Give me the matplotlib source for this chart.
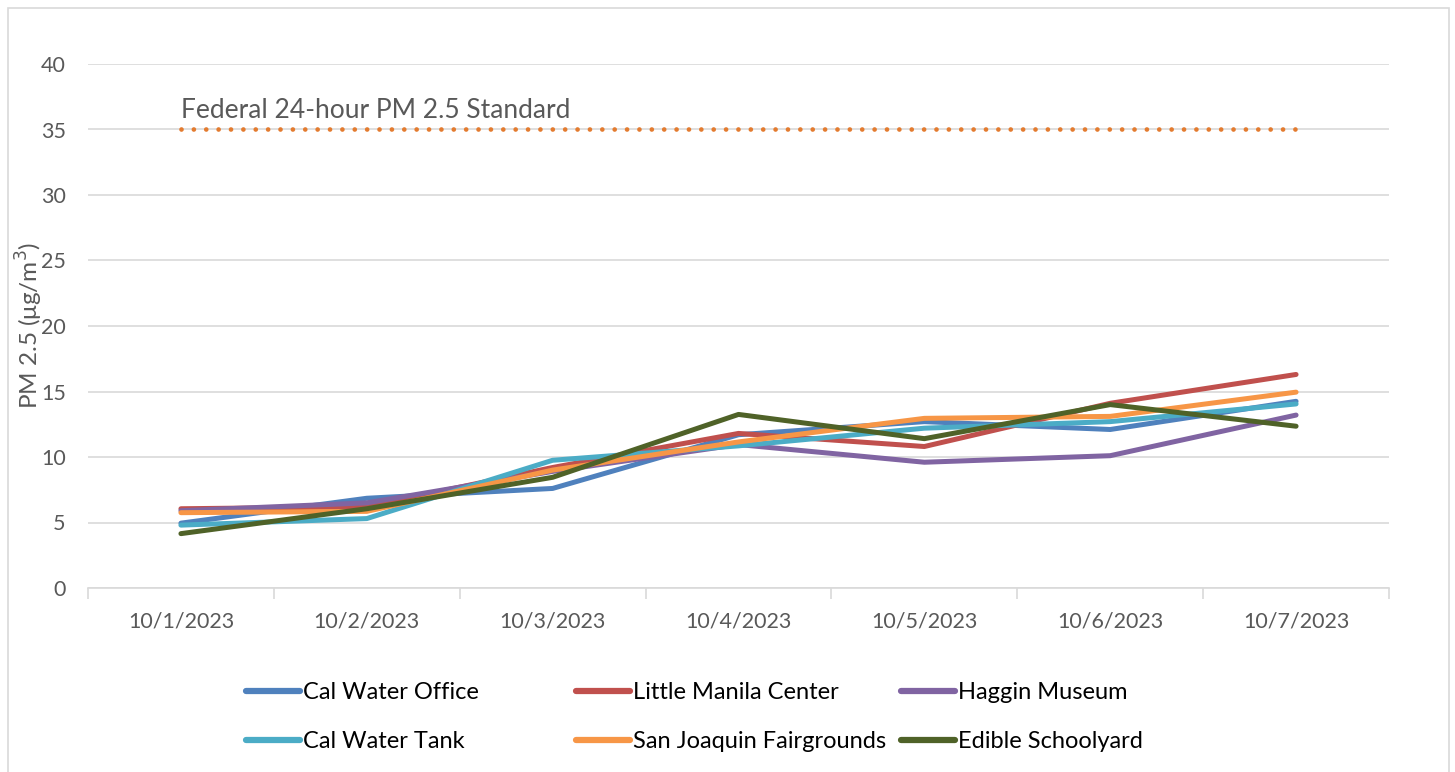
import matplotlib.pyplot as plt
from matplotlib.patches import Rectangle

dates = ['10/1/2023', '10/2/2023', '10/3/2023', '10/4/2023', '10/5/2023', '10/6/2023', '10/7/2023']

cal_water_office = [4.95, 6.85, 7.6, 11.7, 12.7, 12.1, 14.25]
little_manila = [6.05, 6.2, 9.2, 11.8, 10.8, 14.1, 16.3]
haggin_museum = [5.9, 6.5, 8.9, 10.95, 9.6, 10.1, 13.2]
cal_water_tank = [4.8, 5.3, 9.75, 10.85, 12.2, 12.7, 14.05]
fairgrounds = [5.75, 5.85, 9.0, 11.15, 12.95, 13.1, 14.95]
edible_schoolyard = [4.15, 6.05, 8.45, 13.25, 11.4, 14.0, 12.35]

standard = [35] * 7

series = [
    ('Cal Water Office', cal_water_office, '#4F81BD'),
    ('Little Manila Center', little_manila, '#C0504D'),
    ('Haggin Museum', haggin_museum, '#8064A2'),
    ('Cal Water Tank', cal_water_tank, '#4BACC6'),
    ('San Joaquin Fairgrounds', fairgrounds, '#F79646'),
    ('Edible Schoolyard', edible_schoolyard, '#4F6228'),
]

plt.rcParams['font.family'] = ['Lato', 'DejaVu Sans']

fig = plt.figure(figsize=(14.55, 7.72), dpi=100)
ax = fig.add_axes([88 / 1455, 1 - 588 / 772, (1389 - 88) / 1455, (588 - 64) / 772])

# chart border
fig.patches.append(Rectangle((8 / 1455, -0.01), 1441 / 1455, 1 - 8 / 772 + 0.01,
                             transform=fig.transFigure, fill=False,
                             edgecolor='#D9D9D9', lw=1.2))

x = list(range(len(dates)))
lines = []
for name, vals, col in series:
    ln, = ax.plot(x, vals, color=col, lw=3.6, label=name, solid_capstyle='round',
                  solid_joinstyle='round')
    lines.append(ln)

ax.plot(x, standard, color='#E37B2F', lw=3.4, linestyle=(0, (0.001, 2.62)),
        dash_capstyle='round')
ax.text(0, 35.5, 'Federal 24-hour PM 2.5 Standard', fontsize=19, color='#595959',
        ha='left', va='bottom')

ax.set_xlim(-0.5, 6.5)
ax.set_ylim(0, 40)
ax.set_yticks(range(0, 41, 5))
ax.set_xticks(x)
ax.set_xticklabels(dates)
ax.set_xticks([i - 0.5 for i in range(8)], minor=True)
ax.tick_params(axis='x', which='major', length=0, pad=17, labelsize=15.5, labelcolor='#595959')
ax.tick_params(axis='x', which='minor', length=8, color='#D9D9D9', width=1.2)
ax.tick_params(axis='y', length=0, pad=16, labelsize=15.5, labelcolor='#595959')
ax.grid(axis='y', color='#D9D9D9', lw=1.2)
ax.set_axisbelow(True)
for s in ['top', 'right', 'left']:
    ax.spines[s].set_visible(False)
ax.spines['bottom'].set_color('#D9D9D9')
ax.spines['bottom'].set_linewidth(1.2)

ax.set_ylabel('PM 2.5 (μg/m$^3$)', fontsize=17.5, color='#595959')
ax.yaxis.set_label_coords(-0.033, 0.5)

# legend: three columns
col_x = [246, 576, 901]
for i in range(3):
    leg = fig.legend([lines[i], lines[i + 3]], [series[i][0], series[i + 3][0]],
                     loc='upper left', bbox_to_anchor=(col_x[i] / 1455, 1 - 682 / 772),
                     frameon=False, fontsize=17, handlelength=2.3, handletextpad=0.12,
                     labelspacing=1.18, borderaxespad=0, borderpad=0)
    for ln in leg.get_lines():
        ln.set_linewidth(4.5)

fig.savefig('out.png', dpi=100)
